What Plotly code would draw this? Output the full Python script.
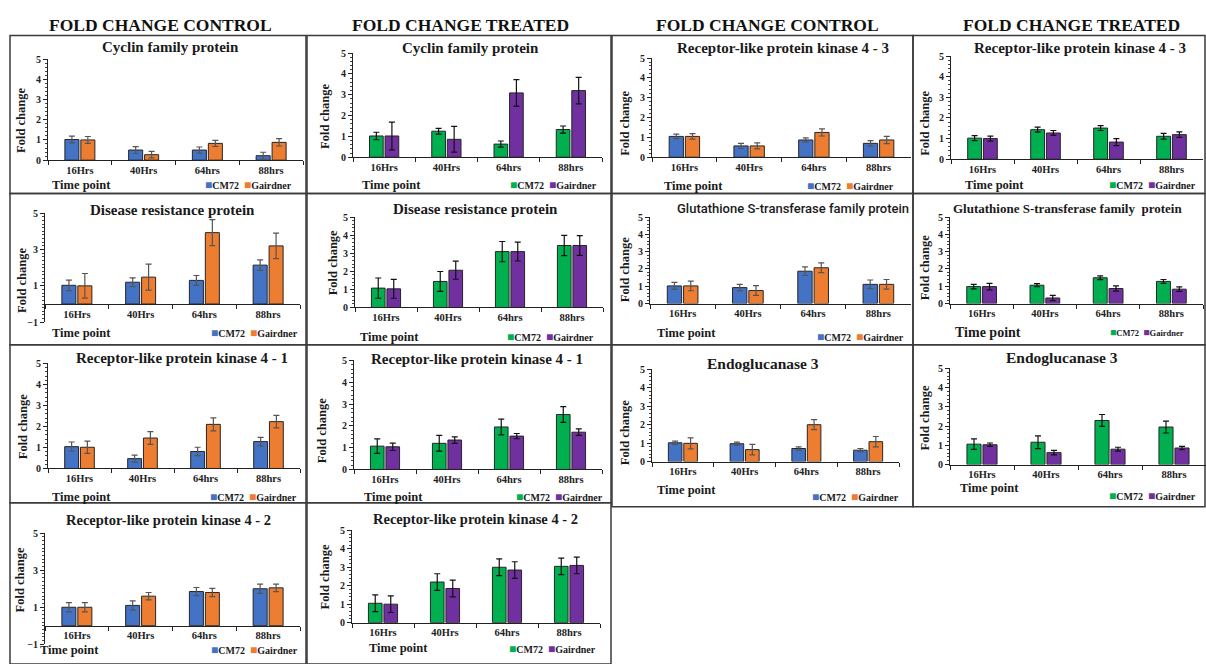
import plotly.graph_objects as go

W, H = 1206, 664

# ---------------- data ----------------
categories = ["16Hrs", "40Hrs", "64hrs", "88hrs"]
series_names = ["CM72", "Gairdner"]
column_headers = ["FOLD CHANGE CONTROL", "FOLD CHANGE TREATED",
                  "FOLD CHANGE CONTROL", "FOLD CHANGE TREATED"]
ticks_0_5 = [0, 1, 2, 3, 4, 5]
ticks_m1_5 = [-1, 1, 3, 5]

# Cyclin family protein
cyclin_ctrl_cm72 = [1.02, 0.50, 0.50, 0.22]
cyclin_ctrl_cm72_err = [0.17, 0.17, 0.15, 0.17]
cyclin_ctrl_gair = [1.00, 0.27, 0.83, 0.88]
cyclin_ctrl_gair_err = [0.17, 0.16, 0.15, 0.18]
cyclin_trt_cm72 = [1.02, 1.25, 0.63, 1.33]
cyclin_trt_cm72_err = [0.18, 0.14, 0.15, 0.17]
cyclin_trt_gair = [1.02, 0.86, 3.09, 3.20]
cyclin_trt_gair_err = [0.67, 0.62, 0.64, 0.64]

# Receptor-like protein kinase 4 - 3
rlk3_ctrl_cm72 = [1.05, 0.57, 0.87, 0.70]
rlk3_ctrl_cm72_err = [0.11, 0.13, 0.11, 0.14]
rlk3_ctrl_gair = [1.05, 0.57, 1.25, 0.87]
rlk3_ctrl_gair_err = [0.14, 0.15, 0.18, 0.18]
rlk3_trt_cm72 = [1.02, 1.43, 1.51, 1.11]
rlk3_trt_cm72_err = [0.12, 0.12, 0.12, 0.14]
rlk3_trt_gair = [1.00, 1.27, 0.83, 1.19]
rlk3_trt_gair_err = [0.12, 0.12, 0.17, 0.13]

# Disease resistance protein
drp_ctrl_cm72 = [1.03, 1.20, 1.30, 2.14]
drp_ctrl_cm72_err = [0.29, 0.24, 0.27, 0.29]
drp_ctrl_gair = [1.00, 1.48, 3.93, 3.20]
drp_ctrl_gair_err = [0.68, 0.72, 0.72, 0.70]
drp_trt_cm72 = [1.07, 1.44, 3.09, 3.43]
drp_trt_cm72_err = [0.56, 0.55, 0.56, 0.56]
drp_trt_gair = [1.03, 2.06, 3.09, 3.43]
drp_trt_gair_err = [0.52, 0.50, 0.52, 0.55]

# Glutathione S-transferase family protein
gst_ctrl_cm72 = [1.02, 0.92, 1.87, 1.11]
gst_ctrl_cm72_err = [0.20, 0.19, 0.25, 0.25]
gst_ctrl_gair = [1.02, 0.75, 2.07, 1.11]
gst_ctrl_gair_err = [0.28, 0.28, 0.28, 0.28]
gst_trt_cm72 = [0.98, 1.06, 1.49, 1.28]
gst_trt_cm72_err = [0.13, 0.09, 0.11, 0.11]
gst_trt_gair = [0.98, 0.32, 0.87, 0.83]
gst_trt_gair_err = [0.19, 0.15, 0.15, 0.13]

# Receptor-like protein kinase 4 - 1
rlk1_ctrl_cm72 = [1.04, 0.47, 0.81, 1.28]
rlk1_ctrl_cm72_err = [0.22, 0.17, 0.20, 0.20]
rlk1_ctrl_gair = [1.01, 1.45, 2.10, 2.23]
rlk1_ctrl_gair_err = [0.29, 0.30, 0.31, 0.30]
rlk1_trt_cm72 = [1.07, 1.20, 1.95, 2.52]
rlk1_trt_cm72_err = [0.33, 0.36, 0.36, 0.36]
rlk1_trt_gair = [1.04, 1.35, 1.53, 1.71]
rlk1_trt_gair_err = [0.17, 0.15, 0.12, 0.15]

# Endoglucanase 3
endo_ctrl_cm72 = [1.02, 0.97, 0.71, 0.62]
endo_ctrl_cm72_err = [0.09, 0.09, 0.09, 0.09]
endo_ctrl_gair = [0.99, 0.65, 2.00, 1.08]
endo_ctrl_gair_err = [0.30, 0.28, 0.27, 0.28]
endo_trt_cm72 = [1.06, 1.16, 2.29, 1.95]
endo_trt_cm72_err = [0.27, 0.33, 0.31, 0.31]
endo_trt_gair = [1.03, 0.62, 0.80, 0.86]
endo_trt_gair_err = [0.09, 0.12, 0.10, 0.09]

# Receptor-like protein kinase 4 - 2
rlk2_ctrl_cm72 = [1.00, 1.10, 1.85, 2.00]
rlk2_ctrl_cm72_err = [0.25, 0.25, 0.22, 0.25]
rlk2_ctrl_gair = [1.00, 1.60, 1.80, 2.05]
rlk2_ctrl_gair_err = [0.25, 0.20, 0.22, 0.20]
rlk2_trt_cm72 = [1.05, 2.20, 3.00, 3.05]
rlk2_trt_cm72_err = [0.45, 0.45, 0.45, 0.45]
rlk2_trt_gair = [1.00, 1.85, 2.85, 3.10]
rlk2_trt_gair_err = [0.45, 0.45, 0.45, 0.45]

# ---------------- styles ----------------
CTRL_COLORS = ["#4472C4", "#ED7D31"]
TRT_COLORS = ["#00B050", "#7030A0"]
SERIF = "Liberation Serif"
SANS = "Roboto"

# ---------------- panel layout (pixels) ----------------
# box: frame (x0,y0,x1,y1); ax: (x_left, x_right, y_pixel_of_top, y_pixel_of_bottom)
panels = [
    dict(title="Cyclin family protein", trt=False, vals=(cyclin_ctrl_cm72, cyclin_ctrl_cm72_err, cyclin_ctrl_gair, cyclin_ctrl_gair_err),
         box=(10, 30, 306, 191), ax=(48, 303, 54, 157), yr=(0, 5), tpos=(170, 42), tsize=15,
         tp=(50, 182), lg=(294, 182), yt=(21, 117)),
    dict(title="Cyclin family protein", trt=True, vals=(cyclin_trt_cm72, cyclin_trt_cm72_err, cyclin_trt_gair, cyclin_trt_gair_err),
         box=(307, 30, 611, 191), ax=(353, 602, 48, 154), yr=(0, 5), tpos=(470, 43), tsize=15,
         tp=(360, 182), lg=(599, 182), yt=(325, 113)),
    dict(title="Receptor-like protein kinase 4 - 3", trt=False, vals=(rlk3_ctrl_cm72, rlk3_ctrl_cm72_err, rlk3_ctrl_gair, rlk3_ctrl_gair_err),
         box=(612, 30, 913, 191), ax=(652, 911, 53, 154), yr=(0, 5), tpos=(783, 43), tsize=15,
         tp=(662, 183), lg=(896, 183), yt=(625, 120)),
    dict(title="Receptor-like protein kinase 4 - 3", trt=True, vals=(rlk3_trt_cm72, rlk3_trt_cm72_err, rlk3_trt_gair, rlk3_trt_gair_err),
         box=(913, 30, 1205, 191), ax=(951, 1203, 51, 156), yr=(0, 5), tpos=(1080, 43), tsize=15,
         tp=(963, 182), lg=(1198, 182), yt=(925, 120)),
    dict(title="Disease resistance protein", trt=False, vals=(drp_ctrl_cm72, drp_ctrl_cm72_err, drp_ctrl_gair, drp_ctrl_gair_err),
         box=(10, 191, 306, 345), ax=(45, 300, 211, 322), yr=(-1, 5), tpos=(172, 208), tsize=15,
         tp=(50, 333), lg=(300, 333), yt=(22, 280)),
    dict(title="Disease resistance protein", trt=True, vals=(drp_trt_cm72, drp_trt_cm72_err, drp_trt_gair, drp_trt_gair_err),
         box=(307, 191, 611, 345), ax=(355, 603, 215, 307), yr=(0, 5), tpos=(475, 207), tsize=15,
         tp=(358, 337), lg=(596, 337), yt=(333, 262)),
    dict(title="Glutathione S-transferase family protein", trt=False, sans=True, vals=(gst_ctrl_cm72, gst_ctrl_cm72_err, gst_ctrl_gair, gst_ctrl_gair_err),
         box=(612, 191, 913, 345), ax=(650, 911, 215, 303), yr=(0, 5), tpos=(793, 206), tsize=13,
         tp=(655, 333), lg=(906, 337), yt=(625, 269)),
    dict(title="Glutathione S-transferase family  protein", trt=True, vals=(gst_trt_cm72, gst_trt_cm72_err, gst_trt_gair, gst_trt_gair_err),
         box=(913, 191, 1205, 345), ax=(950, 1203, 215, 303), yr=(0, 5), tpos=(1067, 206), tsize=13,
         tp=(953, 332), lg=(1186, 332), yt=(925, 267), tpsize=14, lgsize=8.5),
    dict(title="Receptor-like protein kinase 4 - 1", trt=False, vals=(rlk1_ctrl_cm72, rlk1_ctrl_cm72_err, rlk1_ctrl_gair, rlk1_ctrl_gair_err),
         box=(10, 345, 306, 506), ax=(48, 300, 364, 471), yr=(0, 5), tpos=(182, 358), tsize=15,
         tp=(50, 500), lg=(299, 500), yt=(23, 429)),
    dict(title="Receptor-like protein kinase 4 - 1", trt=True, vals=(rlk1_trt_cm72, rlk1_trt_cm72_err, rlk1_trt_gair, rlk1_trt_gair_err),
         box=(307, 345, 611, 506), ax=(354, 602, 361, 472), yr=(0, 5), tpos=(477, 359), tsize=15,
         tp=(362, 500), lg=(605, 500), yt=(322, 433)),
    dict(title="Endoglucanase 3", trt=False, vals=(endo_ctrl_cm72, endo_ctrl_cm72_err, endo_ctrl_gair, endo_ctrl_gair_err),
         box=(612, 345, 913, 510), ax=(652, 899, 370, 464), yr=(0, 5), tpos=(763, 364), tsize=15.5,
         tp=(655, 493), lg=(901, 500), yt=(625, 435)),
    dict(title="Endoglucanase 3", trt=True, vals=(endo_trt_cm72, endo_trt_cm72_err, endo_trt_gair, endo_trt_gair_err),
         box=(913, 345, 1205, 510), ax=(950, 1206, 369, 467), yr=(0, 5), tpos=(1062, 358), tsize=15.5,
         tp=(958, 491), lg=(1198, 499), yt=(925, 420)),
    dict(title="Receptor-like protein kinase 4 - 2", trt=False, vals=(rlk2_ctrl_cm72, rlk2_ctrl_cm72_err, rlk2_ctrl_gair, rlk2_ctrl_gair_err),
         box=(10, 506, 306, 670), ax=(45, 300, 537, 650), yr=(-1, 5), tpos=(168, 523), tsize=14.5,
         tp=(38, 656), lg=(300, 656), yt=(20, 585)),
    dict(title="Receptor-like protein kinase 4 - 2", trt=True, vals=(rlk2_trt_cm72, rlk2_trt_cm72_err, rlk2_trt_gair, rlk2_trt_gair_err),
         box=(307, 506, 611, 670), ax=(352, 600, 534, 628), yr=(0, 5), tpos=(475, 522), tsize=14.5,
         tp=(367, 654), lg=(598, 655), yt=(325, 582)),
]
header_pos = [(160, 19), (460, 19), (767, 19), (1071, 19)]


def fx(px):
    return px / W


def fy(py):
    return 1 - py / H


fig = go.Figure()
layout = {}
annotations = []
shapes = []

for i, p in enumerate(panels):
    n = i + 1
    xa = "x" if n == 1 else f"x{n}"
    ya = "y" if n == 1 else f"y{n}"
    colors = TRT_COLORS if p["trt"] else CTRL_COLORS
    errc = "#111111" if p["trt"] else "#555555"
    c_vals, c_err, g_vals, g_err = p["vals"]
    for name, vals, errs, col in ((series_names[0], c_vals, c_err, colors[0]),
                                  (series_names[1], g_vals, g_err, colors[1])):
        fig.add_trace(go.Bar(
            x=categories, y=vals, name=name, xaxis=xa, yaxis=ya,
            marker=dict(color=col, line=dict(color="#262626", width=1)),
            error_y=dict(type="data", array=errs, color=errc, thickness=1.2, width=3),
            showlegend=False,
        ))
    x0, x1, yt_px, yb_px = p["ax"]
    y0v, y1v = p["yr"]
    xdom = [fx(x0), min(1.0, fx(x1))]
    ydom = [fy(yb_px), fy(yt_px)]
    xkey = "xaxis" if n == 1 else f"xaxis{n}"
    ykey = "yaxis" if n == 1 else f"yaxis{n}"
    xdict = dict(type="category", domain=xdom, showline=True, linecolor="#222222", linewidth=1,
                 ticks="outside", tickson="boundaries", ticklen=4, tickcolor="#222222",
                 showgrid=False, fixedrange=True,
                 tickfont=dict(family=SERIF, size=10.5, color="#222222", weight="bold"))
    if y0v < 0:
        zero_px = yb_px - (yb_px - yt_px) * (0 - y0v) / (y1v - y0v)
        xdict.update(anchor="free", position=fy(zero_px))
        tickvals = ticks_m1_5
    else:
        xdict.update(anchor=ya)
        tickvals = ticks_0_5
    layout[xkey] = xdict
    layout[ykey] = dict(domain=ydom, anchor=xa, range=[y0v, y1v], tickvals=tickvals,
                        showline=True, linecolor="#222222", linewidth=1, ticks="outside",
                        ticklen=4, tickcolor="#222222", showgrid=False, zeroline=False,
                        minor=dict(ticks="outside", ticklen=2, dtick=0.2, tickcolor="#444444"),
                        tickfont=dict(family=SERIF, size=10, color="#222222", weight="bold"),
                        fixedrange=True)
    # frame
    bx0, by0, bx1, by1 = p["box"]
    shapes.append(dict(type="rect", xref="paper", yref="paper", x0=fx(bx0), x1=fx(bx1),
                       y0=fy(by1), y1=fy(by0), line=dict(color="#3a3a3a", width=1.5),
                       fillcolor="rgba(0,0,0,0)", layer="below"))
    # panel title
    tfam = SANS if p.get("sans") else SERIF
    tweight = 500 if p.get("sans") else "bold"
    annotations.append(dict(text=p["title"], xref="paper", yref="paper", x=fx(p["tpos"][0]),
                            y=fy(p["tpos"][1]), xanchor="center", yanchor="middle", showarrow=False,
                            font=dict(family=tfam, size=p["tsize"], color="#1a1a1a", weight=tweight)))
    # x-axis title
    annotations.append(dict(text="Time point", xref="paper", yref="paper", x=fx(p["tp"][0]),
                            y=fy(p["tp"][1]), xanchor="left", yanchor="middle", showarrow=False,
                            font=dict(family=SERIF, size=p.get("tpsize", 12.5), color="#1a1a1a", weight="bold")))
    # y-axis title
    annotations.append(dict(text="Fold change", xref="paper", yref="paper", x=fx(p["yt"][0]),
                            y=fy(p["yt"][1]), xanchor="center", yanchor="middle", textangle=-90,
                            showarrow=False,
                            font=dict(family=SERIF, size=12.5, color="#1a1a1a", weight="bold")))
    # legend (per-panel key)
    lsz = p.get("lgsize", 10)
    sq = lsz + 2
    ltxt = (f"<span style='color:{colors[0]};font-size:{sq}px'>■</span>{series_names[0]}  "
            f"<span style='color:{colors[1]};font-size:{sq}px'>■</span>{series_names[1]}")
    annotations.append(dict(text=ltxt, xref="paper", yref="paper", x=fx(p["lg"][0]),
                            y=fy(p["lg"][1]), xanchor="right", yanchor="middle", showarrow=False,
                            font=dict(family=SERIF, size=lsz, color="#1a1a1a", weight="bold")))

for txt, (hx, hy) in zip(column_headers, header_pos):
    annotations.append(dict(text=txt, xref="paper", yref="paper", x=fx(hx), y=fy(hy),
                            xanchor="center", yanchor="middle", showarrow=False,
                            font=dict(family=SERIF, size=17.5, color="#111111", weight="bold")))

fig.update_layout(
    width=W, height=H, autosize=False,
    margin=dict(l=0, r=0, t=0, b=0),
    paper_bgcolor="white", plot_bgcolor="white",
    barmode="group", bargap=0.5, bargroupgap=0.12,
    annotations=annotations, shapes=shapes,
    showlegend=False,
    **layout,
)

fig.write_html(
    "out.html",
    config={"displayModeBar": False},
    post_script="document.body.style.margin='0';document.body.style.overflow='hidden';",
)
